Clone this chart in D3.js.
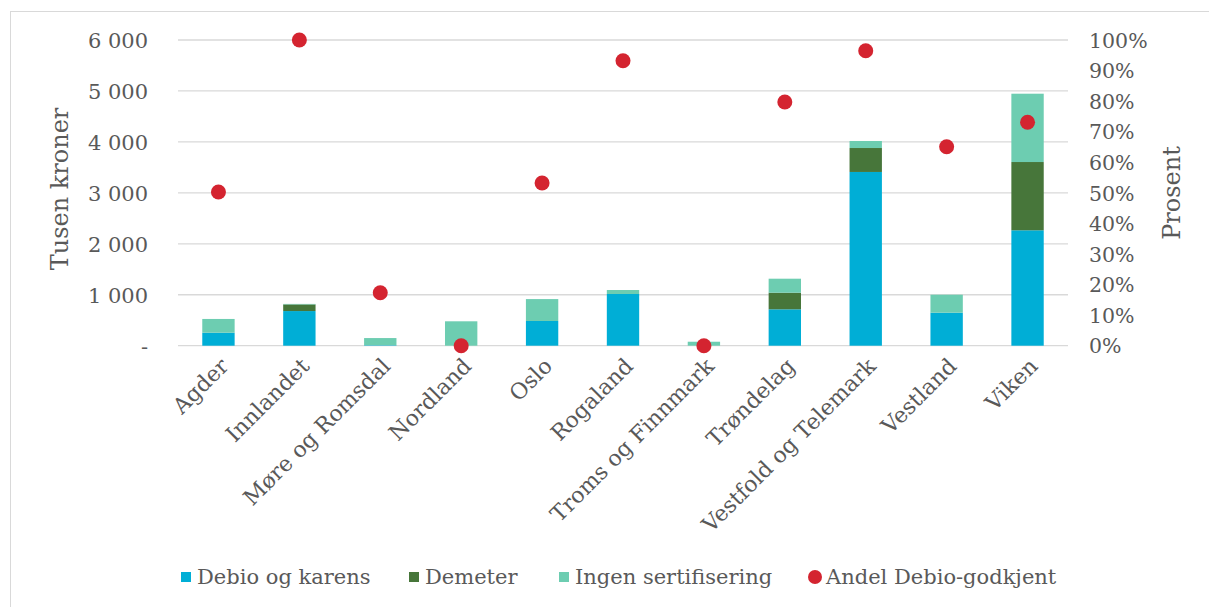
<!DOCTYPE html>
<html><head><meta charset="utf-8">
<script src="https://cdn.jsdelivr.net/npm/d3@7"></script>
<style>
html,body{margin:0;padding:0;background:#fff;}
svg text{font-family:"DejaVu Serif","Liberation Serif",serif;fill:#595959;}
</style></head>
<body><svg id="c" width="1209" height="607"></svg>
<script>
const categories = ["Agder","Innlandet","Møre og Romsdal","Nordland","Oslo","Rogaland","Troms og Finnmark","Trøndelag","Vestfold og Telemark","Vestland","Viken"];
const debio   = [255, 680, 10, 0, 485, 1015, 0, 714, 3410, 648, 2265];
const demeter = [0, 130, 0, 0, 0, 0, 0, 326, 470, 0, 1340];
const ingen   = [270, 10, 140, 479, 430, 78, 78, 275, 138, 353, 1341];
const andel   = [0.503, 1.0, 0.173, 0.0, 0.532, 0.932, 0.0, 0.797, 0.965, 0.651, 0.731];
const leftTicks = [0, 1000, 2000, 3000, 4000, 5000, 6000];
const rightTicks = [0,0.1,0.2,0.3,0.4,0.5,0.6,0.7,0.8,0.9,1.0];
const seriesNames = ["Debio og karens","Demeter","Ingen sertifisering"];
const colors = ["#00AED6","#47763A","#6DCDB1"];
const dotColor = "#D42430";
const dotName = "Andel Debio-godkjent";

const svg = d3.select("#c");
svg.append("rect").attr("x",10.5).attr("y",11.5).attr("width",1220).attr("height",620)
  .attr("fill","none").attr("stroke","#d9d9d9").attr("stroke-width",1);

const x = d3.scaleBand().domain(categories).range([178,1068]).paddingInner(0.6).paddingOuter(0.3);
const y = d3.scaleLinear().domain([0,6000]).range([345.7,40]);
const y2 = d3.scaleLinear().domain([0,1]).range([345.7,40]);

// gridlines
svg.append("g").selectAll("line").data(leftTicks).join("line")
  .attr("x1",178).attr("x2",1068).attr("y1",d=>y(d)).attr("y2",d=>y(d))
  .attr("stroke","#d9d9d9").attr("stroke-width",1.3);

// stacked bars
const rows = categories.map((c,i)=>({cat:c, debio:debio[i], demeter:demeter[i], ingen:ingen[i]}));
const stack = d3.stack().keys(["debio","demeter","ingen"])(rows);
svg.append("g").selectAll("g").data(stack).join("g").attr("fill",(d,i)=>colors[i])
  .selectAll("rect").data(d=>d).join("rect")
  .attr("x",d=>x(d.data.cat)).attr("width",x.bandwidth())
  .attr("y",d=>y(d[1])).attr("height",d=>Math.max(0,y(d[0])-y(d[1])));

// dots
svg.append("g").selectAll("circle").data(andel).join("circle")
  .attr("cx",(d,i)=>x(categories[i])+x.bandwidth()/2).attr("cy",d=>y2(d)).attr("r",7.5)
  .attr("fill",dotColor);

// left axis
const fmt = d => d===0 ? "-" : d3.format(",")(d).replace(",", " ");
const la = svg.append("g").attr("transform","translate(148,0)")
  .call(d3.axisLeft(y).tickValues(leftTicks).tickFormat(fmt).tickSize(0).tickPadding(0));
la.select(".domain").remove();
la.selectAll("text").style("font-size","21px").attr("fill","#595959").attr("dy","0.35em");

// right axis
const ra = svg.append("g").attr("transform","translate(1089,0)")
  .call(d3.axisRight(y2).tickValues(rightTicks).tickFormat(d3.format(".0%")).tickSize(0).tickPadding(0));
ra.select(".domain").remove();
ra.selectAll("text").style("font-size","20.5px").attr("fill","#595959").attr("dy","0.35em");

// x labels
svg.append("g").selectAll("text").data(categories).join("text")
  .attr("transform",d=>`translate(${x(d)+x.bandwidth()/2+6},${362}) rotate(-45)`)
  .attr("text-anchor","end").attr("dy","0.35em").style("font-size","22px").text(d=>d);

// axis titles
svg.append("text").attr("transform","translate(68,189) rotate(-90)").attr("text-anchor","middle")
  .style("font-size","24px").text("Tusen kroner");
svg.append("text").attr("transform","translate(1180,193) rotate(-90)").attr("text-anchor","middle")
  .style("font-size","24px").text("Prosent");

// legend
const leg = svg.append("g");
const items = [{n:seriesNames[0],c:colors[0],t:"r",x:181},{n:seriesNames[1],c:colors[1],t:"r",x:409},
  {n:seriesNames[2],c:colors[2],t:"r",x:559},{n:dotName,c:dotColor,t:"c",x:808}];
items.forEach(it=>{
  if(it.t==="r") leg.append("rect").attr("x",it.x).attr("y",572).attr("width",10).attr("height",10).attr("fill",it.c);
  else leg.append("circle").attr("cx",it.x+7).attr("cy",577).attr("r",7).attr("fill",it.c);
  leg.append("text").attr("x",it.x+(it.t==="r"?16:18)).attr("y",577).attr("dy","0.35em").style("font-size","21px").text(it.n);
});
</script></body></html>
